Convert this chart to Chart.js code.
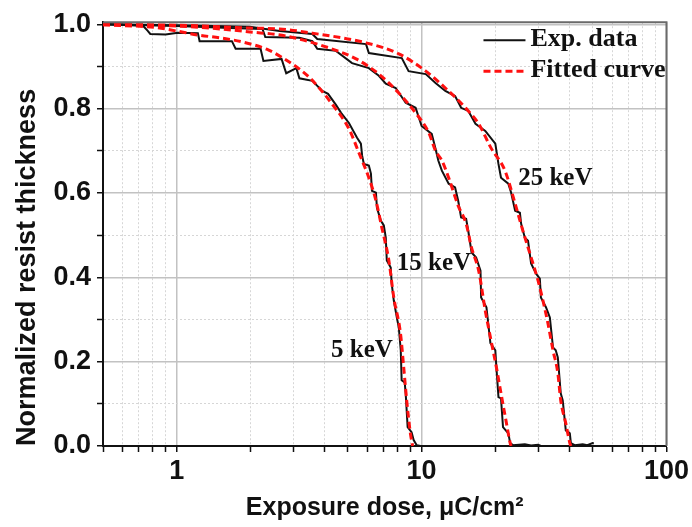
<!DOCTYPE html>
<html>
<head>
<meta charset="utf-8">
<script src="https://cdn.jsdelivr.net/npm/chart.js@4.4.0/dist/chart.umd.min.js"></script>
<style>
  html, body { margin: 0; padding: 0; background: #fff; }
</style>
</head>
<body>
<canvas id="doseChart" width="692" height="527"></canvas>
<script>
// exposure dose (uC/cm2) vs normalized resist thickness

// 5 keV
const expDose5 = [0.5, 0.6, 0.73, 0.76, 0.78, 0.9, 1.01, 1.22, 1.24, 1.68, 1.74, 2.20, 2.26, 2.68, 2.80, 3.08, 3.17, 3.58, 3.93, 4.15, 4.47, 4.69, 5.05, 5.45, 5.65, 5.72, 5.81, 6.09, 6.21, 6.27, 6.51, 6.57, 6.82, 7.01, 7.14, 7.21, 7.48, 7.55, 7.70, 7.92, 8.07, 8.22, 8.29, 8.53, 8.61, 8.77, 9.10, 9.28, 9.55, 9.9]
const expThk5 = [1.0, 0.999, 0.996, 0.985, 0.977, 0.976, 0.980, 0.979, 0.960, 0.960, 0.942, 0.942, 0.913, 0.918, 0.884, 0.896, 0.872, 0.866, 0.842, 0.835, 0.809, 0.790, 0.766, 0.731, 0.717, 0.688, 0.669, 0.665, 0.646, 0.605, 0.601, 0.565, 0.534, 0.523, 0.494, 0.440, 0.423, 0.385, 0.345, 0.305, 0.281, 0.227, 0.156, 0.151, 0.125, 0.045, 0.033, 0.014, 0.002, 0.0]
const fitDose5 = [0.5, 0.83, 1.0, 1.24, 1.5, 1.86, 2.33, 2.70, 3.48, 4.31, 5.05, 5.55, 6.09, 6.51, 6.88, 7.35, 7.70, 8.20, 8.45, 8.69, 9.0, 9.19]
const fitThk5 = [0.999, 0.992, 0.984, 0.974, 0.968, 0.958, 0.941, 0.921, 0.874, 0.811, 0.752, 0.695, 0.636, 0.582, 0.518, 0.440, 0.352, 0.267, 0.187, 0.109, 0.030, 0.0]

// 15 keV
const expDose15 = [0.5, 1.0, 1.65, 2.24, 2.30, 3.17, 3.58, 3.75, 4.47, 5.20, 6.09, 6.69, 7.14, 7.84, 8.61, 9.45, 10.0, 11.0, 11.4, 11.7, 12.1, 12.9, 13.7, 14.1, 14.5, 15.2, 15.5, 16.0, 16.7, 17.4, 17.5, 18.4, 19.1, 20.0, 20.2, 20.6, 21.1, 21.5, 22.6, 23.0, 23.6, 26.4, 28.0, 29.9, 30.6]
const expThk15 = [1.0, 0.996, 0.991, 0.989, 0.970, 0.968, 0.960, 0.942, 0.937, 0.908, 0.896, 0.878, 0.859, 0.849, 0.814, 0.802, 0.759, 0.740, 0.705, 0.677, 0.653, 0.622, 0.613, 0.582, 0.542, 0.539, 0.511, 0.459, 0.447, 0.416, 0.352, 0.329, 0.244, 0.227, 0.187, 0.116, 0.113, 0.045, 0.030, 0.007, 0.002, 0.004, 0.001, 0.003, 0.001]
const fitDose15 = [0.5, 1.0, 1.5, 1.99, 2.80, 4.19, 5.40, 6.69, 8.07, 9.45, 10.7, 11.4, 12.1, 12.9, 14.1, 15.2, 16.0, 17.1, 18.2, 19.2, 20.2, 21.1, 22.1, 23.0, 23.2]
const fitThk15 = [1.0, 0.996, 0.989, 0.982, 0.972, 0.944, 0.918, 0.882, 0.837, 0.790, 0.743, 0.700, 0.677, 0.636, 0.570, 0.527, 0.470, 0.416, 0.321, 0.251, 0.187, 0.125, 0.061, 0.007, 0.0]

// 25 keV
const expDose25 = [0.5, 1.0, 1.99, 2.63, 3.58, 3.75, 5.93, 6.09, 8.30, 8.85, 10.4, 11.4, 12.5, 13.7, 14.5, 15.5, 16.6, 18.2, 20.0, 20.6, 21.1, 22.6, 23.2, 24.1, 25.2, 25.5, 26.4, 27.2, 28.0, 29.3, 30.4, 30.7, 32.2, 33.4, 34.4, 35.3, 36.0, 37.0, 37.7, 38.8, 40.3, 40.7, 42.2, 45.5, 47.5, 49.9, 50.5]
const expThk25 = [1.0, 0.998, 0.994, 0.984, 0.977, 0.965, 0.953, 0.932, 0.920, 0.889, 0.882, 0.861, 0.842, 0.830, 0.802, 0.795, 0.764, 0.747, 0.717, 0.669, 0.636, 0.622, 0.601, 0.558, 0.553, 0.527, 0.494, 0.487, 0.433, 0.409, 0.397, 0.352, 0.329, 0.305, 0.234, 0.227, 0.210, 0.125, 0.108, 0.037, 0.030, 0.007, 0.002, 0.004, 0.002, 0.007, 0.006]
const fitDose25 = [0.5, 1.0, 1.99, 2.63, 3.58, 5.93, 8.07, 10.4, 12.5, 15.1, 17.1, 19.2, 21.9, 23.9, 25.9, 27.7, 29.9, 31.3, 32.8, 34.4, 36.0, 37.0, 38.8, 40.3, 40.7]
const fitThk25 = [0.999, 0.998, 0.991, 0.989, 0.979, 0.956, 0.930, 0.889, 0.849, 0.802, 0.764, 0.707, 0.653, 0.582, 0.511, 0.456, 0.392, 0.345, 0.291, 0.227, 0.173, 0.108, 0.054, 0.007, 0.0]

// axes
const xTicks = [0.5, 0.6, 0.7, 0.8, 0.9, 1, 2, 3, 4, 5, 6, 7, 8, 9, 10, 20, 30, 40, 50, 60, 70, 80, 90, 100]
const xMajor = [1, 10, 100]
const xTickLabels = ['1', '10', '100']
const yTicks = [0, 0.1, 0.2, 0.3, 0.4, 0.5, 0.6, 0.7, 0.8, 0.9, 1.0]
const yMajor = [0, 0.2, 0.4, 0.6, 0.8, 1.0]
const yTickLabels = ['0.0', '0.2', '0.4', '0.6', '0.8', '1.0']

const energyLabels = ['25 keV', '15 keV', '5 keV']
const legendLabels = ['Exp. data', 'Fitted curve']

const toPts = (xs, ys) => xs.map((x, i) => ({x: x, y: ys[i]}))

const expStyle = {borderColor: '#111', borderWidth: 2, pointRadius: 0, tension: 0, order: 2}
const fitStyle = {borderColor: '#ff1010', borderWidth: 3, borderDash: [7, 4], pointRadius: 0, cubicInterpolationMode: 'monotone', order: 1}

const sans = "'Liberation Sans', Arial, sans-serif"
const serif = "'Liberation Serif', 'Times New Roman', serif"

// frame, legend and energy labels
const extras = {
  id: 'extras',
  afterDraw(chart, args, opts) {
    const ctx = chart.ctx
    const a = chart.chartArea
    const xs = chart.scales.x
    const ys = chart.scales.y
    ctx.save()
    // top + right frame
    ctx.strokeStyle = '#6a6a6a'
    ctx.lineWidth = 2
    ctx.beginPath()
    ctx.moveTo(a.left, a.top)
    ctx.lineTo(a.right, a.top)
    ctx.lineTo(a.right, a.bottom)
    ctx.stroke()

    ctx.font = 'bold 25px ' + serif
    ctx.fillStyle = '#111'
    ctx.textBaseline = 'middle'
    ctx.textAlign = 'left'
    opts.energy.forEach((e, i) => {
      ctx.fillText(energyLabels[i], xs.getPixelForValue(e[0]), ys.getPixelForValue(e[1]))
    })

    // legend
    const lx = a.right - 183
    ctx.font = 'bold 26px ' + serif
    legendLabels.forEach((t, i) => {
      const y = a.top + 17 + i * 31
      ctx.beginPath()
      if (i == 0) {
        ctx.strokeStyle = '#111'; ctx.lineWidth = 2; ctx.setLineDash([])
      } else {
        ctx.strokeStyle = '#ff1010'; ctx.lineWidth = 3; ctx.setLineDash([7, 4])
      }
      ctx.moveTo(lx, y + 1)
      ctx.lineTo(lx + 42, y + 1)
      ctx.stroke()
      ctx.setLineDash([])
      ctx.fillText(t, lx + 47, y)
    })
    ctx.restore()
  }
}

new Chart(document.getElementById('doseChart'), {
  type: 'line',
  data: {
    datasets: [
      Object.assign({label: '5 keV exp', data: toPts(expDose5, expThk5)}, expStyle),
      Object.assign({label: '15 keV exp', data: toPts(expDose15, expThk15)}, expStyle),
      Object.assign({label: '25 keV exp', data: toPts(expDose25, expThk25)}, expStyle),
      Object.assign({label: '5 keV fit', data: toPts(fitDose5, fitThk5)}, fitStyle),
      Object.assign({label: '15 keV fit', data: toPts(fitDose15, fitThk15)}, fitStyle),
      Object.assign({label: '25 keV fit', data: toPts(fitDose25, fitThk25)}, fitStyle)
    ]
  },
  plugins: [extras],
  options: {
    responsive: false,
    animation: false,
    layout: {padding: {top: 21.5, right: 24, left: 0, bottom: 0}},
    plugins: {
      legend: {display: false},
      tooltip: {enabled: false},
      extras: {energy: [[24.8, 0.634], [7.92, 0.433], [4.27, 0.227]]}
    },
    scales: {
      x: {
        type: 'logarithmic',
        min: 0.5,
        max: 100,
        afterBuildTicks: s => { s.ticks = xTicks.map(v => ({value: v})) },
        afterFit: s => { s.height = 81 },
        ticks: {
          autoSkip: false,
          maxRotation: 0,
          padding: 3,
          color: '#111',
          font: {family: sans, size: 27, weight: 'bold'},
          callback: v => {
            const k = xMajor.indexOf(v)
            return k < 0 ? '' : xTickLabels[k]
          }
        },
        grid: {
          color: c => xMajor.includes(c.tick.value) ? '#c2c2c2' : '#d6d6d6',
          lineWidth: c => xMajor.includes(c.tick.value) ? 1.5 : 1,
          tickColor: '#111',
          tickWidth: 1.5,
          tickLength: 6
        },
        border: {
          color: '#111',
          width: 2,
          dash: c => (c.tick && !xMajor.includes(c.tick.value)) ? [2, 2] : []
        },
        title: {
          display: true,
          text: 'Exposure dose, \u03bcC/cm\u00b2',
          color: '#111',
          font: {family: sans, size: 25, weight: 'bold'},
          padding: {top: 0, bottom: 4}
        }
      },
      y: {
        min: 0,
        max: 1.005,
        afterBuildTicks: s => { s.ticks = yTicks.map(v => ({value: v})) },
        afterFit: s => { s.width = 103 },
        ticks: {
          padding: 6,
          color: '#111',
          font: {family: sans, size: 27, weight: 'bold'},
          callback: v => {
            const k = yMajor.indexOf(v)
            return k < 0 ? '' : yTickLabels[k]
          }
        },
        grid: {
          color: c => yMajor.includes(c.tick.value) ? '#c2c2c2' : '#d6d6d6',
          lineWidth: c => yMajor.includes(c.tick.value) ? 1.5 : 1,
          tickColor: '#111',
          tickWidth: 1.5,
          tickLength: 6
        },
        border: {
          color: '#111',
          width: 2,
          dash: c => (c.tick && !yMajor.includes(c.tick.value)) ? [2, 2] : []
        },
        title: {
          display: true,
          text: 'Normalized resist thickness',
          align: 'start',
          color: '#111',
          font: {family: sans, size: 27, weight: 'bold'},
          padding: {top: 11, bottom: 0}
        }
      }
    }
  }
})
</script>
</body>
</html>
